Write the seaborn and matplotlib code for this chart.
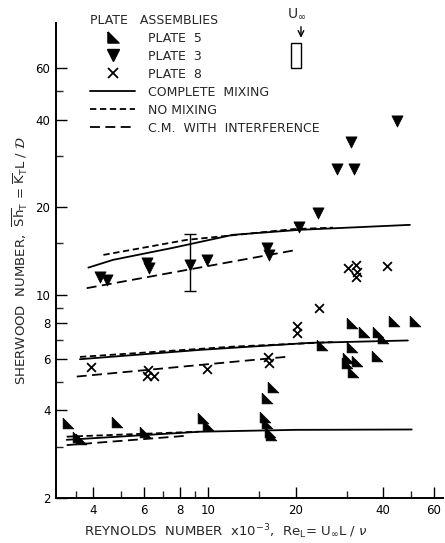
import numpy as np
import pandas as pd
import matplotlib
matplotlib.use('Agg')
import matplotlib.pyplot as plt
import matplotlib.ticker as mticker
from matplotlib.lines import Line2D
from matplotlib.patches import Rectangle
import seaborn as sns

# ---- data (Re x 10^-3 , Sherwood number) ----
plate5_re = [3.29, 3.55, 3.65, 4.83, 6.05, 9.61, 10.0, 15.7, 16.0, 16.3, 16.4, 15.9, 16.75,
             24.6, 31.2, 34.4, 38.6, 40.1, 43.7, 51.6, 31.2, 38.1, 30.4, 32.5, 30.0, 31.5]
plate5_sh = [3.61, 3.25, 3.18, 3.66, 3.38, 3.76, 3.56, 3.81, 3.61, 3.38, 3.30, 4.40, 4.83,
             6.72, 8.02, 7.47, 7.47, 7.09, 8.09, 8.09, 6.63, 6.16, 6.05, 5.93, 5.84, 5.44]

plate3_re = [4.23, 4.46, 6.16, 6.26, 8.65, 9.87, 15.98, 16.2, 20.5, 23.95, 27.7, 31.8, 31.0, 44.8]
plate3_sh = [11.54, 11.25, 12.84, 12.33, 12.66, 13.17, 14.45, 13.7, 17.04, 19.16, 27.0, 27.0, 33.5, 39.4]

plate8_re = [3.93, 6.21, 6.16, 6.50, 9.92, 16.1, 16.2, 20.2, 20.3, 24.1, 30.4, 32.3, 32.5, 32.3, 41.2]
plate8_sh = [5.66, 5.51, 5.26, 5.26, 5.54, 6.13, 5.84, 7.81, 7.37, 8.99, 12.33, 12.66, 12.01, 11.49, 12.5]

# error bar on plate 3
err_re = [8.65]
err_mid = [12.66]
err_low = [10.33]
err_high = [16.15]

# model curves: (model, group, re, sh)
curves = [
    ('complete', 'top', [3.86, 4.69, 7.55, 12.16, 20.7, 49.6], [12.39, 13.17, 14.49, 16.06, 16.71, 17.38]),
    ('nomix', 'top', [4.35, 8.42, 19.6, 26.9], [13.7, 15.43, 16.8, 17.0]),
    ('interf', 'top', [3.81, 20.2], [10.53, 14.26]),
    ('complete', 'mid', [3.61, 9.36, 22.4, 48.8], [6.0, 6.46, 6.83, 6.96]),
    ('nomix', 'mid', [3.61, 12.2, 26.9], [6.11, 6.63, 6.87]),
    ('interf', 'mid', [3.52, 19.1], [5.23, 6.13]),
    ('complete', 'bot', [3.25, 6.0, 9.36, 20.0, 50.3], [3.17, 3.29, 3.38, 3.43, 3.44]),
    ('nomix', 'bot', [3.25, 9.25], [3.25, 3.38]),
    ('interf', 'bot', [3.25, 8.3], [3.04, 3.27]),
]

rows = []
for model, grp, xs, ys in curves:
    for x, y in zip(xs, ys):
        rows.append({'model': model, 'unit': model + grp, 're': x, 'sh': y})
lines_df = pd.DataFrame(rows)

x_major = [4, 6, 8, 10, 20, 40, 60]
x_minor = [3.5, 5, 7, 9, 15, 30, 50]
y_major = [2, 4, 6, 8, 10, 20, 40, 60]
y_minor = [3, 5, 7, 9, 15, 30, 50]

# ---- style ----
sns.set_style('ticks')
plt.rcParams['font.family'] = ['DejaVu Sans']
plt.rcParams['mathtext.fontset'] = 'dejavusans'

fig = plt.figure(figsize=(4.45, 5.43), dpi=100)
ax = fig.add_axes([56 / 445, 45 / 543, 387 / 445, 475 / 543])
ax.set_xscale('log')
ax.set_yscale('log')

tri5 = [(-1, 1), (-1, -1), (1, -1), (-1, 1)]
dash_map = {'complete': '', 'nomix': (3.5, 2), 'interf': (5.5, 3)}

sns.lineplot(data=lines_df, x='re', y='sh', style='model', units='unit', estimator=None,
             dashes=dash_map, color='black', linewidth=1.3, legend=False, sort=False, ax=ax)

sns.scatterplot(x=plate5_re, y=plate5_sh, marker=tri5, s=60, color='black',
                edgecolor='black', linewidth=0.5, ax=ax, zorder=3)
sns.scatterplot(x=plate3_re, y=plate3_sh, marker='v', s=65, color='black',
                edgecolor='black', linewidth=0.5, ax=ax, zorder=3)
sns.scatterplot(x=plate8_re, y=plate8_sh, marker='x', s=40, color='black',
                linewidth=1.3, ax=ax, zorder=3)

ax.errorbar(err_re, err_mid,
            yerr=[[err_mid[0] - err_low[0]], [err_high[0] - err_mid[0]]],
            fmt='none', ecolor='black', elinewidth=1, capsize=4, capthick=1)

ax.set_xlim(2.985, 64.5)
ax.set_ylim(2, 85.9)

ax.xaxis.set_major_locator(mticker.FixedLocator(x_major))
ax.xaxis.set_minor_locator(mticker.FixedLocator(x_minor))
ax.yaxis.set_major_locator(mticker.FixedLocator(y_major))
ax.yaxis.set_minor_locator(mticker.FixedLocator(y_minor))
ax.xaxis.set_major_formatter(mticker.FixedFormatter([str(v) for v in x_major]))
ax.yaxis.set_major_formatter(mticker.FixedFormatter([str(v) for v in y_major]))
ax.xaxis.set_minor_formatter(mticker.NullFormatter())
ax.yaxis.set_minor_formatter(mticker.NullFormatter())
ax.tick_params(which='major', direction='in', length=8, width=1, labelsize=8.5, pad=4, colors='black')
ax.tick_params(which='minor', direction='in', length=5, width=1)

sns.despine(ax=ax)
ax.spines['left'].set_linewidth(1.4)
ax.spines['bottom'].set_linewidth(1.4)
ax.spines['left'].set_color('black')
ax.spines['bottom'].set_color('black')

ax.set_xlabel(r'REYNOLDS  NUMBER  x10$^{-3}$,  Re$_\mathrm{L}$= U$_\infty$L / $\nu$', fontsize=9.5)
ax.xaxis.set_label_coords(0.44, -0.052)
ax.set_ylabel(r'SHERWOOD  NUMBER,  $\overline{\mathrm{Sh}}_\mathrm{T}$ = $\overline{\mathrm{K}}_\mathrm{T}$L / $\mathcal{D}$',
              fontsize=9.5)

# legend
handles = [
    Line2D([], [], marker=tri5, ls='none', color='black', markersize=8),
    Line2D([], [], marker='v', ls='none', color='black', markersize=8),
    Line2D([], [], marker='x', ls='none', color='black', markersize=7, markeredgewidth=1.3),
    Line2D([], [], ls='-', color='black', lw=1.3),
    Line2D([], [], ls=(0, (3.5, 2)), color='black', lw=1.3),
    Line2D([], [], ls=(0, (5.5, 3)), color='black', lw=1.3),
]
labels = ['PLATE  5', 'PLATE  3', 'PLATE  8', 'COMPLETE  MIXING', 'NO MIXING',
          'C.M.  WITH  INTERFERENCE']
leg = ax.legend(handles, labels, title='PLATE   ASSEMBLIES', loc='upper left',
                bbox_to_anchor=(0.06, 1.043), frameon=False, fontsize=9,
                title_fontsize=9, handlelength=3.6, handletextpad=1.0,
                labelspacing=0.4, alignment='left')

# free-stream direction sketch
ax.text(0.623, 1.02, r'U$_\infty$', transform=ax.transAxes, fontsize=10,
        ha='center', va='center')
ax.annotate('', xy=(0.633, 0.963), xytext=(0.633, 0.998), xycoords='axes fraction',
            arrowprops=dict(arrowstyle='->', color='black', lw=1))
ax.add_patch(Rectangle((0.607, 0.905), 0.026, 0.053, transform=ax.transAxes,
                       fill=False, edgecolor='black', lw=1, clip_on=False))

fig.savefig('out.png', dpi=100)
